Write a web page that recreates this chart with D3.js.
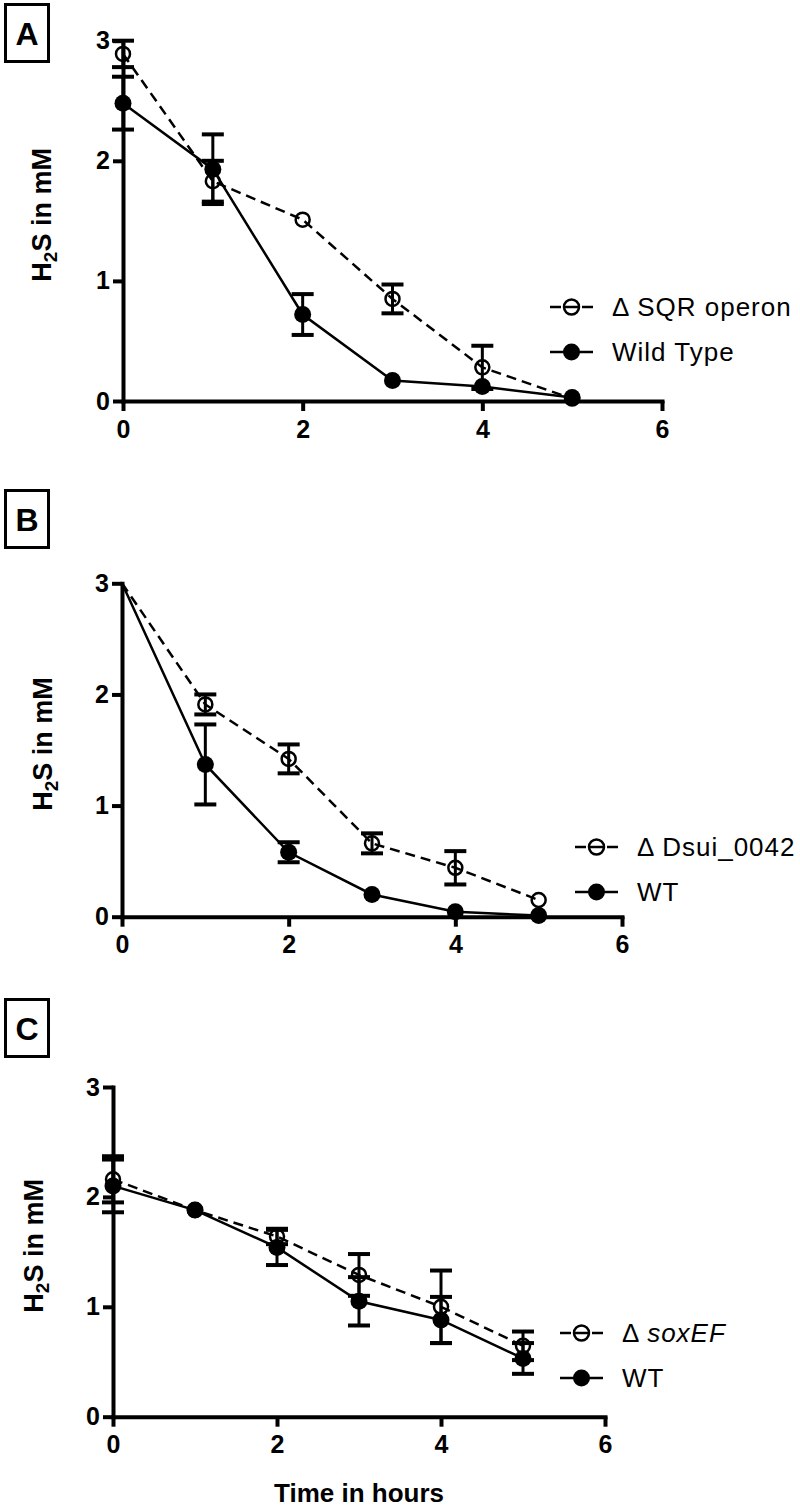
<!DOCTYPE html>
<html>
<head>
<meta charset="utf-8">
<script src="https://cdnjs.cloudflare.com/ajax/libs/d3/7.8.5/d3.min.js"></script>
<style>
  body { margin: 0; background: #fff; }
  svg { display: block; font-family: Arial, "Liberation Sans", sans-serif; }
</style>
</head>
<body>
<div id="chart"></div>
<script>
var width = 800,
    height = 1511;

// time points (hours) and axis ticks
var hours = [0, 1, 2, 3, 4, 5];
var xTicks = [0, 2, 4, 6];
var yTicks = [0, 1, 2, 3];

// panel A
var sqrMean = [2.89, 1.83, 1.51, 0.85, 0.28, 0.02];
var sqrErr  = [0.11, 0.17, 0.03, 0.12, 0.18, 0.02];
var wtAMean = [2.48, 1.93, 0.72, 0.17, 0.12, 0.03];
var wtAErr  = [0.22, 0.29, 0.17, 0.02, 0.02, 0.02];

// panel B
var dsuiMean = [3.0, 1.91, 1.42, 0.66, 0.44, 0.15];
var dsuiErr  = [0, 0.09, 0.13, 0.09, 0.15, 0.01];
var wtBMean  = [3.0, 1.37, 0.58, 0.20, 0.045, 0.01];
var wtBErr   = [0, 0.36, 0.09, 0.01, 0.01, 0.01];

// panel C
var soxMean = [2.16, 1.88, 1.64, 1.29, 1.00, 0.645];
var soxErr  = [0.21, 0.02, 0.07, 0.19, 0.33, 0.13];
var wtCMean = [2.10, 1.88, 1.54, 1.05, 0.88, 0.53];
var wtCErr  = [0.24, 0.02, 0.16, 0.22, 0.21, 0.14];

var panels = [
    { letter: "A", box: [4, 3], x0: 123, x1: 662, yTop: 40.7, yBot: 401, titleX: 41,
      legendX: 550, legendY: 307, firstMarker: 0,
      series: [
          { label: ["\u0394 SQR operon"], mean: sqrMean, err: sqrErr, open: true },
          { label: ["Wild Type"], mean: wtAMean, err: wtAErr, open: false }
      ] },
    { letter: "B", box: [4, 489], x0: 122, x1: 622, yTop: 583.3, yBot: 916.7, titleX: 42,
      legendX: 575, legendY: 847, firstMarker: 1,
      series: [
          { label: ["\u0394 Dsui_0042"], mean: dsuiMean, err: dsuiErr, open: true },
          { label: ["WT"], mean: wtBMean, err: wtBErr, open: false }
      ] },
    { letter: "C", box: [4, 998], x0: 113, x1: 605, yTop: 1087, yBot: 1416.7, titleX: 33,
      legendX: 560, legendY: 1333, firstMarker: 0,
      series: [
          { label: ["\u0394 ", "soxEF"], mean: soxMean, err: soxErr, open: true },
          { label: ["WT"], mean: wtCMean, err: wtCErr, open: false }
      ] }
];

var svg = d3.select("#chart").append("svg")
    .attr("width", width)
    .attr("height", height);

panels.forEach(function (p, pi) {

    var x = d3.scaleLinear().domain([0, 6]).range([p.x0, p.x1]);
    var y = d3.scaleLinear().domain([0, 3]).range([p.yBot, p.yTop]);

    // panel letter box
    var lb = svg.append("g").attr("transform", "translate(" + p.box[0] + "," + p.box[1] + ")");
    lb.append("rect")
        .attr("x", 1.5).attr("y", 1.5)
        .attr("width", 43).attr("height", 57)
        .attr("fill", "none").attr("stroke", "#000").attr("stroke-width", 3);
    lb.append("text")
        .attr("x", 23).attr("y", 42)
        .attr("text-anchor", "middle")
        .attr("font-size", 32).attr("font-weight", "bold")
        .text(p.letter);

    // axes
    var yAxis = d3.axisLeft(y).tickValues(yTicks).tickSize(10).tickSizeOuter(0).tickPadding(3)
        .tickFormat(d3.format("d"));
    var xAxis = d3.axisBottom(x).tickValues(xTicks).tickSize(10).tickSizeOuter(0).tickPadding(9)
        .tickFormat(d3.format("d"));

    var gy = svg.append("g").attr("transform", "translate(" + p.x0 + ",0)").call(yAxis);
    var gx = svg.append("g").attr("transform", "translate(0," + p.yBot + ")").call(xAxis);

    [gx, gy].forEach(function (g) {
        g.select(".domain").attr("stroke-width", 4).attr("stroke-linecap", "square");
        g.selectAll(".tick line").attr("stroke-width", 4);
        g.selectAll(".tick text")
            .attr("font-size", 25).attr("font-weight", "bold")
            .attr("font-family", "Arial, 'Liberation Sans', sans-serif")
            .attr("fill", "#000");
    });

    // y title
    var ty = svg.append("text")
        .attr("transform", "translate(" + p.titleX + "," + ((p.yTop + p.yBot) / 2 - 6) + ") rotate(-90)")
        .attr("text-anchor", "middle")
        .attr("dy", "0.36em")
        .attr("font-size", 27).attr("font-weight", "bold");
    ty.append("tspan").text("H");
    ty.append("tspan").attr("font-size", 19).attr("dy", 6).text("2");
    ty.append("tspan").attr("dy", -6).text("S in mM");

    var line = d3.line()
        .x(function (d) { return x(d.t); })
        .y(function (d) { return y(d.v); });

    p.series.forEach(function (s, si) {
        var pts = hours.map(function (t, i) { return { t: t, v: s.mean[i], e: s.err[i] }; });
        var g = svg.append("g");
        var dash = s.open ? "10,6" : null;

        // error bars
        var eb = g.selectAll(".err").data(pts.filter(function (d) { return d.e > 0.03; }))
            .enter().append("g");
        eb.append("line")
            .attr("x1", function (d) { return x(d.t); })
            .attr("x2", function (d) { return x(d.t); })
            .attr("y1", function (d) { return y(d.v + d.e); })
            .attr("y2", function (d) { return y(d.v - d.e); })
            .attr("stroke", "#000").attr("stroke-width", 3);
        [1, -1].forEach(function (sign) {
            eb.append("line")
                .attr("x1", function (d) { return x(d.t) - 11; })
                .attr("x2", function (d) { return x(d.t) + 11; })
                .attr("y1", function (d) { return y(d.v + sign * d.e); })
                .attr("y2", function (d) { return y(d.v + sign * d.e); })
                .attr("stroke", "#000").attr("stroke-width", 4);
        });

        g.append("path")
            .datum(pts)
            .attr("d", line)
            .attr("fill", "none")
            .attr("stroke", "#000")
            .attr("stroke-width", 2.5)
            .attr("stroke-dasharray", dash);

        g.selectAll("circle").data(pts.slice(p.firstMarker))
            .enter().append("circle")
            .attr("cx", function (d) { return x(d.t); })
            .attr("cy", function (d) { return y(d.v); })
            .attr("r", s.open ? 7 : 8.5)
            .attr("fill", s.open ? "none" : "#000")
            .attr("stroke", "#000")
            .attr("stroke-width", s.open ? 2.5 : 0);

        // legend
        var ly = p.legendY + si * 45;
        var lg = svg.append("g");
        lg.append("line")
            .attr("x1", p.legendX).attr("x2", p.legendX + 43)
            .attr("y1", ly).attr("y2", ly)
            .attr("stroke", "#000").attr("stroke-width", 2.5)
            .attr("stroke-dasharray", s.open ? "11,21,11" : null);
        lg.append("circle")
            .attr("cx", p.legendX + 21.5).attr("cy", ly)
            .attr("r", s.open ? 7.5 : 8.5)
            .attr("fill", s.open ? "none" : "#000")
            .attr("stroke", "#000")
            .attr("stroke-width", s.open ? 2.5 : 0);
        if (s.open) {
            lg.append("line")
                .attr("x1", p.legendX + 14).attr("x2", p.legendX + 29)
                .attr("y1", ly).attr("y2", ly)
                .attr("stroke", "#000").attr("stroke-width", 2.5);
        }
        var lt = lg.append("text")
            .attr("x", p.legendX + 62).attr("y", ly)
            .attr("dy", "0.36em")
            .attr("font-size", 26)
            .attr("letter-spacing", 1);
        lt.append("tspan").text(s.label[0]);
        if (s.label[1]) lt.append("tspan").attr("font-style", "italic").text(s.label[1]);
    });
});

// shared x title
svg.append("text")
    .attr("x", 359).attr("y", 1502)
    .attr("text-anchor", "middle")
    .attr("font-size", 26).attr("font-weight", "bold")
    .text("Time in hours");
</script>
</body>
</html>
